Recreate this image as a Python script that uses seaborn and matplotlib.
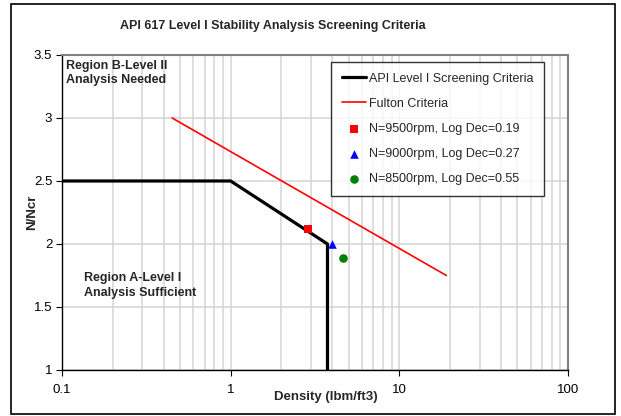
import numpy as np
import pandas as pd
import seaborn as sns
import matplotlib.pyplot as plt
from matplotlib.patches import Rectangle
from matplotlib.ticker import LogLocator, FixedLocator, FuncFormatter

# API Level I screening boundary (density in lbm/ft3, N/Ncr)
api_density = [0.1, 1.0, 3.75, 3.75]
api_ratio = [2.5, 2.5, 2.0, 1.0]

# Fulton criteria line
fulton_density = [0.45, 19.0]
fulton_ratio = [3.0, 1.75]

# Operating points
point_labels = ["N=9500rpm, Log Dec=0.19", "N=9000rpm, Log Dec=0.27", "N=8500rpm, Log Dec=0.55"]
point_density = [2.87, 4.0, 4.65]
point_ratio = [2.12, 2.0, 1.89]
point_colors = ["#ff0000", "#0000ff", "#008000"]
point_markers = ["s", "^", "o"]

x_ticks = [0.1, 1, 10, 100]
y_ticks = [1, 1.5, 2, 2.5, 3, 3.5]

sns.set_style("white")
plt.rcParams["font.family"] = ["Liberation Sans", "DejaVu Sans"]

fig = plt.figure(figsize=(6.21, 4.16), dpi=100)
ax = fig.add_axes([0.0998, 0.1106, 0.8149, 0.7572])

api_df = pd.DataFrame({"x": api_density, "y": api_ratio})
fulton_df = pd.DataFrame({"x": fulton_density, "y": fulton_ratio})

sns.lineplot(data=api_df, x="x", y="y", sort=False, estimator=None, color="black",
             linewidth=2.3, ax=ax, label="API Level I Screening Criteria", zorder=4)
sns.lineplot(data=fulton_df, x="x", y="y", sort=False, estimator=None, color="#ff0000",
             linewidth=1.2, ax=ax, label="Fulton Criteria", zorder=4)
for lab, xd, yd, c, m in zip(point_labels, point_density, point_ratio, point_colors, point_markers):
    sns.scatterplot(x=[xd], y=[yd], color=c, marker=m, s=38, edgecolor=c, linewidth=0,
                    ax=ax, label=lab, zorder=5)

ax.set_xscale("log")
ax.set_xlim(0.1, 100)
ax.set_ylim(1, 3.5)
ax.xaxis.set_major_locator(FixedLocator(x_ticks))
ax.xaxis.set_minor_locator(LogLocator(base=10, subs=np.arange(2, 10)))
ax.xaxis.set_major_formatter(FuncFormatter(lambda v, p: f"{v:g}"))
ax.xaxis.set_minor_formatter(FuncFormatter(lambda v, p: ""))
ax.yaxis.set_major_locator(FixedLocator(y_ticks))
ax.yaxis.set_major_formatter(FuncFormatter(lambda v, p: f"{v:g}"))

ax.grid(True, which="both", axis="x", color="#d4d4d4", linewidth=1.1)
ax.grid(True, which="major", axis="y", color="#d4d4d4", linewidth=1.1)
ax.set_axisbelow(True)

for side in ["left", "bottom"]:
    ax.spines[side].set_color("black")
    ax.spines[side].set_linewidth(1.0)
for side in ["top", "right"]:
    ax.spines[side].set_color("#808080")
    ax.spines[side].set_linewidth(1.5)

ax.tick_params(axis="both", which="major", direction="out", length=4, width=0.8,
               labelsize=9.5, colors="black", left=True, bottom=True)
ax.tick_params(axis="y", which="major", pad=3)
ax.tick_params(axis="x", which="major", pad=6)
ax.tick_params(axis="x", which="minor", length=0)

ax.set_xlabel("Density (lbm/ft3)", fontsize=9.5, fontweight="bold")
ax.set_ylabel("N/Ncr", fontsize=9.5, fontweight="bold")
ax.xaxis.set_label_coords(0.522, -0.068, transform=ax.transAxes)
ax.yaxis.set_label_coords(-0.047, 0.5, transform=ax.transAxes)

ax.text(0.008, 0.985, "Region B-Level II\nAnalysis Needed", transform=ax.transAxes,
        fontsize=9, fontweight="bold", va="top", ha="left", linespacing=1.3)
ax.text(0.044, 0.31, "Region A-Level I\nAnalysis Sufficient", transform=ax.transAxes,
        fontsize=9, fontweight="bold", va="top", ha="left", linespacing=1.3)

fig.text(0.44, 0.938, "API 617 Level I Stability Analysis Screening Criteria",
         fontsize=9, fontweight="bold", ha="center", va="center")

leg = ax.legend(loc="upper left", bbox_to_anchor=(0.532, 0.978), borderaxespad=0,
                fontsize=9, frameon=True, fancybox=False, edgecolor="black",
                handlelength=1.9, handletextpad=0.25, labelspacing=1.05,
                borderpad=0.85, markerscale=1.0)
leg.get_frame().set_linewidth(1.0)
leg.set_zorder(10)

# outer chart border
fig.patches.append(Rectangle((11 / 621, 2 / 416), 604 / 621, 410 / 416,
                             transform=fig.transFigure, fill=False,
                             edgecolor="black", linewidth=1.2))

fig.savefig("out.png", dpi=100)
